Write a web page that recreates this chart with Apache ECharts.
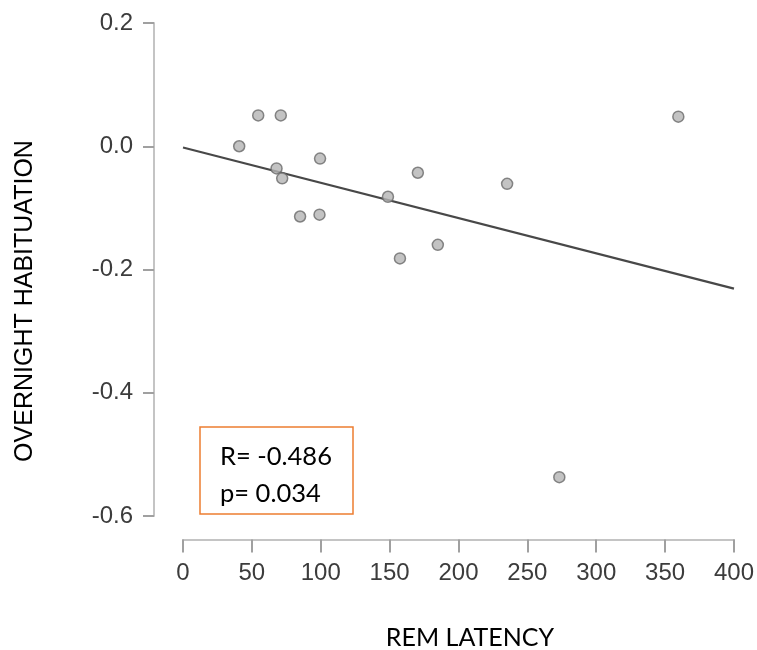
<!DOCTYPE html>
<html>
<head>
<meta charset="utf-8">
<script src="https://cdn.jsdelivr.net/npm/echarts@6/dist/echarts.min.js"></script>
<style>html,body{margin:0;padding:0;background:#fff;}#c{width:757px;height:650px;}</style>
</head>
<body>
<div id="c"></div>
<script>
var remLatency = [40.8, 54.6, 71.0, 67.9, 72.0, 85.0, 99.5, 99.1, 148.8, 157.5, 170.5, 185.0, 235.3, 273.2, 359.6];
var habituation = [0.000, 0.050, 0.050, -0.036, -0.052, -0.114, -0.020, -0.111, -0.082, -0.182, -0.043, -0.160, -0.061, -0.537, 0.048];
var fitX = [0, 400];
var fitY = [-0.002, -0.231];
var xTicks = [0, 50, 100, 150, 200, 250, 300, 350, 400];
var yTicks = [-0.6, -0.4, -0.2, 0.0, 0.2];
var statsLines = ['R= -0.486', 'p= 0.034'];

var points = remLatency.map(function (x, i) { return [x, habituation[i]]; });
var fit = fitX.map(function (x, i) { return [x, fitY[i]]; });

var chart = echarts.init(document.getElementById('c'), null, {renderer: 'canvas'});
chart.setOption({
  backgroundColor: '#fff',
  animation: false,
  grid: {left: 183, right: 22, top: 23, bottom: 134},
  xAxis: {
    type: 'value', min: 0, max: 400, interval: 50,
    offset: 23.5,
    axisLine: {show: true, onZero: false, lineStyle: {color: '#c4c4c4', width: 2}},
    axisTick: {show: true, length: 13, lineStyle: {color: '#a0a0a0', width: 2}},
    axisLabel: {margin: 22, color: '#3c3c3c', fontSize: 24, fontFamily: 'Liberation Sans',
      formatter: function (v) { return xTicks.indexOf(v) >= 0 ? String(v) : ''; }},
    splitLine: {show: false}
  },
  yAxis: {
    type: 'value', min: -0.6, max: 0.2, interval: 0.2,
    offset: 29,
    axisLine: {show: true, onZero: false, lineStyle: {color: '#c4c4c4', width: 2}},
    axisTick: {show: true, length: 11, lineStyle: {color: '#a0a0a0', width: 2}},
    axisLabel: {margin: 21, color: '#3c3c3c', fontSize: 24, fontFamily: 'Liberation Sans',
      formatter: function (v) {
        var r = Math.round(v * 10) / 10;
        return yTicks.indexOf(r) >= 0 ? r.toFixed(1) : '';
      }},
    splitLine: {show: false}
  },
  series: [
    {
      type: 'line', data: fit, symbol: 'none', silent: true,
      lineStyle: {color: '#484848', width: 2.2}, z: 2
    },
    {
      type: 'scatter', data: points, symbol: 'circle', symbolSize: 11,
      itemStyle: {color: '#b4b4b4', borderColor: '#6a6a6a', borderWidth: 1.5}, z: 3
    }
  ],
  graphic: [
    {type: 'rect', shape: {x: 200, y: 427, width: 153, height: 87},
      style: {fill: '#fff', stroke: '#ED7D31', lineWidth: 1.5}, z: 10},
    {type: 'text', x: 220, y: 457, z: 11,
      style: {text: statsLines[0], font: '25.5px Lato', fill: '#000', verticalAlign: 'middle'}},
    {type: 'text', x: 220, y: 494, z: 11,
      style: {text: statsLines[1], font: '25.5px Lato', fill: '#000', verticalAlign: 'middle'}},
    {type: 'text', x: 470, y: 638, z: 11,
      style: {text: 'REM LATENCY', font: '25px Lato', fill: '#000', align: 'center', verticalAlign: 'middle'}},
    {type: 'text', x: 25, y: 301, rotation: Math.PI / 2, z: 11,
      style: {text: 'OVERNIGHT HABITUATION', font: '25px "Liberation Sans"', fill: '#000', align: 'center', verticalAlign: 'middle'}}
  ]
});
</script>
</body>
</html>
